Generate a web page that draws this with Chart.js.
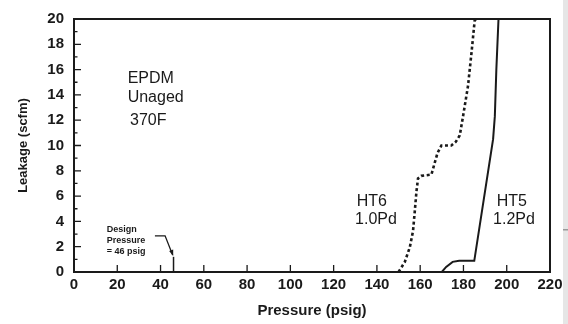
<!DOCTYPE html>
<html><head><meta charset="utf-8">
<script src="https://cdn.jsdelivr.net/npm/chart.js@4/dist/chart.umd.min.js"></script>
<style>html,body{margin:0;padding:0;background:#fff}#wrap{position:relative;width:568px;height:324px}</style>
</head><body><div id="wrap"><canvas id="c" width="568" height="324"></canvas></div>
<script>
// ---- data ----
const xTickValues = [0,20,40,60,80,100,120,140,160,180,200,220];
const yTickValues = [0,2,4,6,8,10,12,14,16,18,20];
const ht6Pressure = [150,152.9,155.2,156.7,157.5,158.3,159,160.5,165.2,166.5,168,169.8,174.4,176.5,178.3,179.8,182.1,183.7,185.2,186];
const ht6Leakage  = [0,0.8,1.95,3.25,4.8,6.4,7.4,7.6,7.7,8.5,9.4,10.0,10.0,10.3,10.8,12.3,14.7,17.3,19.9,20];
const ht5Pressure = [170,172,175,178,185,193.7,194.5,195.2,196.2];
const ht5Leakage  = [0,0.4,0.8,0.88,0.88,10.5,12.3,16,20];
const designPressure = [46,46];
const designLeakage  = [0,1.2];

const pts = (xs, ys) => xs.map((x, i) => ({x: x, y: ys[i]}));
const FONT = "'Liberation Sans', Arial, sans-serif";
const INK = '#1a1a1a';

const decor = {
  id: 'decor',
  afterDraw(chart) {
    const ctx = chart.ctx, xs = chart.scales.x, ys = chart.scales.y, a = chart.chartArea;
    const X = v => xs.getPixelForValue(v), Y = v => ys.getPixelForValue(v);
    ctx.save();
    ctx.strokeStyle = INK;
    // top and right frame
    ctx.lineWidth = 2;
    ctx.beginPath();
    ctx.moveTo(a.left, a.top); ctx.lineTo(a.right, a.top); ctx.lineTo(a.right, a.bottom);
    ctx.stroke();
    // inward ticks
    ctx.lineWidth = 1.3;
    ctx.beginPath();
    for (let v = 1; v < 20; v++) {
      const len = (v % 2 === 0) ? 7 : 3.5;
      ctx.moveTo(a.left, Y(v)); ctx.lineTo(a.left + len, Y(v));
    }
    xTickValues.forEach(v => {
      if (v > 0 && v < 220) { ctx.moveTo(X(v), a.bottom); ctx.lineTo(X(v), a.bottom - 7); }
    });
    ctx.stroke();
    // annotation texts
    ctx.fillStyle = INK;
    ctx.textBaseline = 'alphabetic';
    ctx.textAlign = 'left';
    ctx.font = '16px ' + FONT;
    ctx.fillText('EPDM', X(24.8), Y(14.94));
    ctx.fillText('Unaged', X(24.8), Y(13.46));
    ctx.fillText('370F', X(25.9), Y(11.66));
    ctx.fillText('HT6', X(130.7), Y(5.2));
    ctx.fillText('1.0Pd', X(129.9), Y(3.79));
    ctx.fillText('HT5', X(195.4), Y(5.2));
    ctx.fillText('1.2Pd', X(193.7), Y(3.79));
    ctx.font = 'bold 9px ' + FONT;
    ctx.fillText('Design', X(15.1), Y(3.17));
    ctx.fillText('Pressure', X(15.1), Y(2.31));
    ctx.fillText('= 46 psig', X(15.1), Y(1.46));
    // pointer line with arrowhead
    ctx.lineWidth = 1.3;
    ctx.beginPath();
    ctx.moveTo(X(37.4), Y(2.86)); ctx.lineTo(X(42.1), Y(2.86)); ctx.lineTo(X(45.6), Y(1.35));
    ctx.stroke();
    const tx = X(45.6), ty = Y(1.35);
    ctx.beginPath();
    ctx.moveTo(tx + 0.5, ty + 1); ctx.lineTo(tx - 3.5, ty - 4); ctx.lineTo(tx + 0.5, ty - 5.5);
    ctx.closePath(); ctx.fill();
    // scan edge strip
    ctx.fillStyle = '#e6e6e6';
    ctx.fillRect(563, 0, 5, 324);
    ctx.fillStyle = '#9a9a9a';
    ctx.fillRect(563, 229, 5, 1.5);
    ctx.restore();
  }
};

new Chart(document.getElementById('c'), {
  type: 'scatter',
  data: {
    datasets: [
      { label: 'HT6 1.0Pd', data: pts(ht6Pressure, ht6Leakage), showLine: true, borderColor: INK,
        borderWidth: 2.6, borderDash: [3, 2.6], pointRadius: 0, tension: 0, fill: false },
      { label: 'HT5 1.2Pd', data: pts(ht5Pressure, ht5Leakage), showLine: true, borderColor: INK,
        borderWidth: 2, pointRadius: 0, tension: 0, fill: false },
      { label: 'Design', data: pts(designPressure, designLeakage), showLine: true, borderColor: INK,
        borderWidth: 1.5, pointRadius: 0, fill: false }
    ]
  },
  options: {
    responsive: false, animation: false, devicePixelRatio: 1,
    layout: { padding: { left: 0, top: 15, right: 18, bottom: 0 } },
    plugins: { legend: { display: false }, tooltip: { enabled: false } },
    scales: {
      x: {
        type: 'linear', min: 0, max: 220,
        afterFit: s => { s.height = 52; },
        afterBuildTicks: s => { s.ticks = xTickValues.map(v => ({value: v})); },
        grid: { display: false, drawTicks: false },
        border: { display: true, color: INK, width: 2 },
        ticks: { color: INK, padding: 4, font: { family: FONT, size: 15, weight: 'bold' }, maxRotation: 0, autoSkip: false },
        title: { display: true, text: 'Pressure (psig)', color: INK, font: { family: FONT, size: 15, weight: 'bold' }, padding: { top: 4, bottom: 4 } }
      },
      y: {
        type: 'linear', min: 0, max: 20,
        afterFit: s => { s.width = 74; },
        afterBuildTicks: s => { s.ticks = yTickValues.map(v => ({value: v})); },
        grid: { display: false, drawTicks: false },
        border: { display: true, color: INK, width: 2 },
        ticks: { color: INK, padding: 10, font: { family: FONT, size: 15, weight: 'bold' }, autoSkip: false },
        title: { display: true, text: 'Leakage (scfm)', color: INK, font: { family: FONT, size: 13, weight: 'bold' }, padding: { top: 16, bottom: 4 } }
      }
    }
  },
  plugins: [decor]
});
</script>
</body></html>
